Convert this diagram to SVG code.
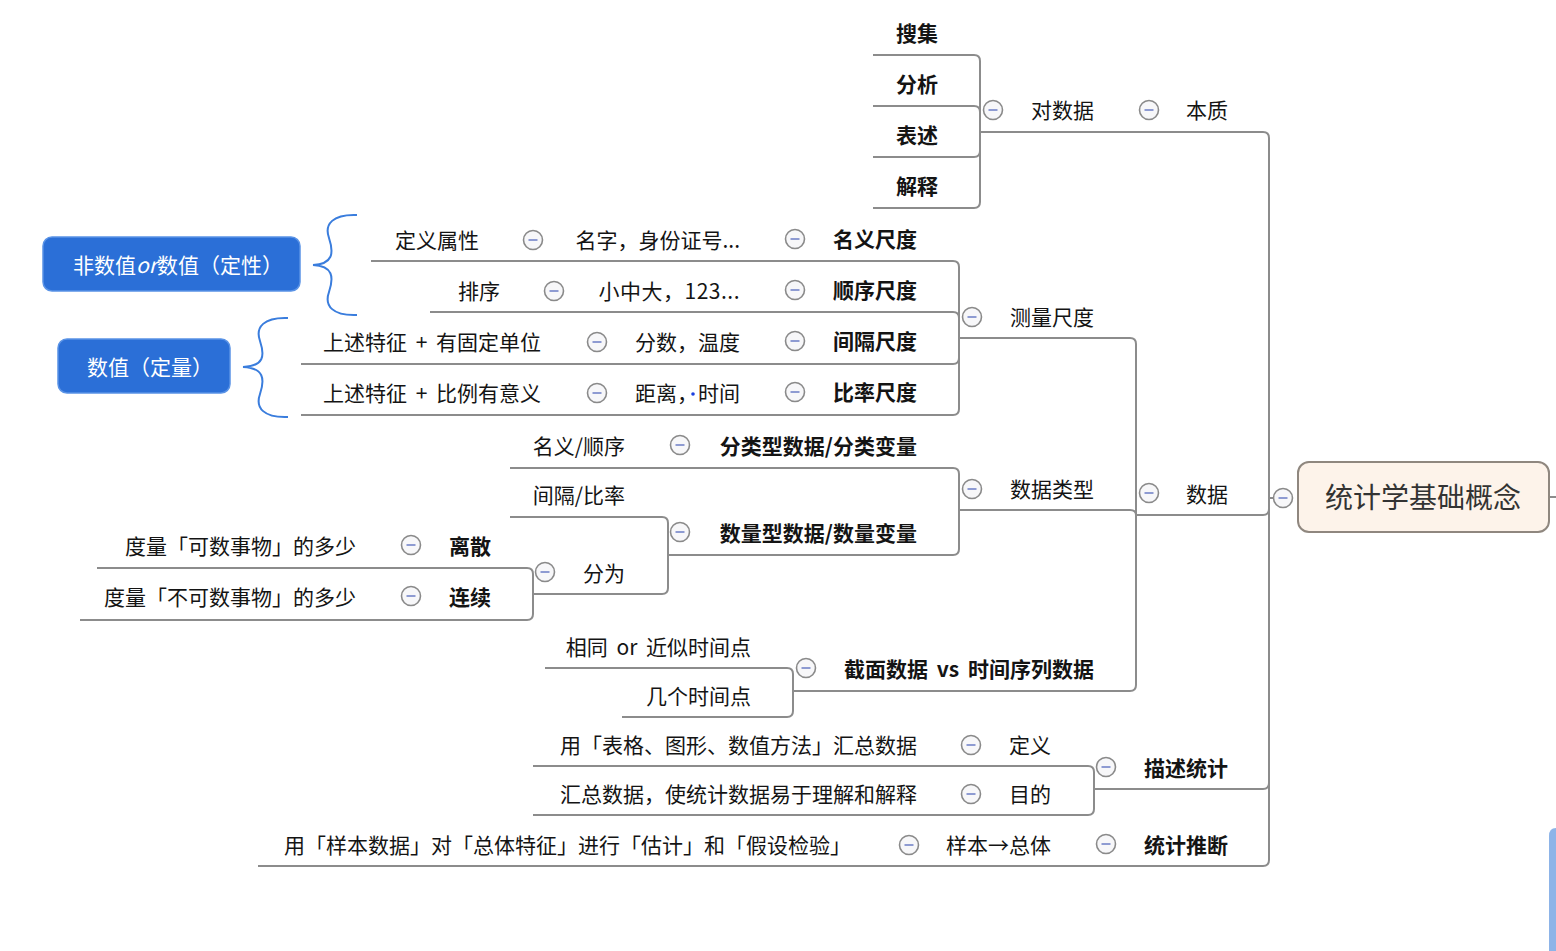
<svg xmlns="http://www.w3.org/2000/svg" width="1556" height="951" viewBox="0 0 1556 951">
<defs>
<style>
text{font-family:"Noto Sans CJK SC","Noto Sans",sans-serif;font-size:21px;fill:#141414;text-anchor:end}
.b{font-weight:bold}
.ws{word-spacing:4px}
.ul{stroke:#8c8c8c;stroke-width:2;fill:none}
.cn{stroke:#8c8c8c;stroke-width:2;fill:none}
.blue rect{fill:#2b6fd7;stroke:#5a93e6;stroke-width:1.5}
.blue text{fill:#ffffff;text-anchor:middle}
.brace{stroke:#3a7ddd;stroke-width:2;fill:none}
</style>
<g id="tog"><circle r="9.5" fill="#f7f7f9" stroke="#8a8a8a" stroke-width="1.6"/><line x1="-4.5" y1="0" x2="4.5" y2="0" stroke="#8e9bd2" stroke-width="2"/></g>
</defs>
<rect width="1556" height="951" fill="#ffffff"/>

<g id="connectors">
<path class="cn" d="M1273,498 H1269 V138 Q1269,132 1263,132"/>
<path class="cn" d="M1269,498 V509 Q1269,515 1263,515"/>
<path class="cn" d="M1269,498 V783 Q1269,789 1263,789"/>
<path class="cn" d="M1269,498 V860 Q1269,866 1263,866"/>
<path class="cn" d="M1550,497 H1556"/>
<path class="cn" d="M980,132 V61 Q980,55 974,55"/>
<path class="cn" d="M980,132 V112 Q980,106 974,106"/>
<path class="cn" d="M980,132 V151 Q980,157 974,157"/>
<path class="cn" d="M980,132 V202 Q980,208 974,208"/>
<path class="cn" d="M1136,515 V344 Q1136,338 1130,338"/>
<path class="cn" d="M1136,515 Q1136,510 1130,510"/>
<path class="cn" d="M1136,515 V685 Q1136,691 1130,691"/>
<path class="cn" d="M959,338 V267 Q959,261 953,261"/>
<path class="cn" d="M959,338 V318 Q959,312 953,312"/>
<path class="cn" d="M959,338 V358 Q959,364 953,364"/>
<path class="cn" d="M959,338 V409 Q959,415 953,415"/>
<path class="cn" d="M959,510 V474 Q959,468 953,468"/>
<path class="cn" d="M959,510 V549 Q959,555 953,555"/>
<path class="cn" d="M668,555 V523 Q668,517 662,517"/>
<path class="cn" d="M668,555 V588 Q668,594 662,594"/>
<path class="cn" d="M533,594 V574 Q533,568 527,568"/>
<path class="cn" d="M533,594 V614 Q533,620 527,620"/>
<path class="cn" d="M793,691 V674 Q793,668 787,668"/>
<path class="cn" d="M793,691 V711 Q793,717 787,717"/>
<path class="cn" d="M1094,789 V772 Q1094,766 1088,766"/>
<path class="cn" d="M1094,789 V809 Q1094,815 1088,815"/>
</g>

<g id="root">
<rect x="1298" y="462" width="251" height="70" rx="11" fill="#fdf3ea" stroke="#8f877f" stroke-width="2"/>
<text x="1423" y="508" style="font-size:28px;fill:#333333;text-anchor:middle">统计学基础概念</text>
<use href="#tog" x="1283" y="498"/>
</g>

<g id="n-benzhi"><line class="ul" x1="1140" y1="132" x2="1263" y2="132"/><use href="#tog" x="1149" y="110"/><text x="1228" y="118">本质</text></g>
<g id="n-duishuju"><line class="ul" x1="980" y1="132" x2="1140" y2="132"/><use href="#tog" x="993" y="110"/><text x="1094" y="118">对数据</text></g>
<g id="n-souji"><line class="ul" x1="873" y1="55" x2="974" y2="55"/><text class="b" x="938" y="41">搜集</text></g>
<g id="n-fenxi"><line class="ul" x1="873" y1="106" x2="974" y2="106"/><text class="b" x="938" y="92">分析</text></g>
<g id="n-biaoshu"><line class="ul" x1="873" y1="157" x2="974" y2="157"/><text class="b" x="938" y="143">表述</text></g>
<g id="n-jieshi"><line class="ul" x1="873" y1="208" x2="974" y2="208"/><text class="b" x="938" y="194">解释</text></g>

<g id="n-shuju"><line class="ul" x1="1136" y1="515" x2="1263" y2="515"/><use href="#tog" x="1149" y="493"/><text x="1228" y="502">数据</text></g>
<g id="n-celiang"><line class="ul" x1="959" y1="338" x2="1130" y2="338"/><use href="#tog" x="972" y="317"/><text x="1094" y="325">测量尺度</text></g>

<g id="n-mingyi"><line class="ul" x1="784" y1="261" x2="953" y2="261"/><use href="#tog" x="795" y="239"/><text class="b" x="917" y="247">名义尺度</text></g>
<g id="n-mingzi"><line class="ul" x1="520" y1="261" x2="784" y2="261"/><use href="#tog" x="533" y="240"/><text x="740" y="248">名字，身份证号...</text></g>
<g id="n-dingyishuxing"><line class="ul" x1="371" y1="261" x2="520" y2="261"/><text x="479" y="248">定义属性</text></g>

<g id="n-shunxu"><line class="ul" x1="784" y1="312" x2="953" y2="312"/><use href="#tog" x="795" y="290"/><text class="b" x="917" y="298">顺序尺度</text></g>
<g id="n-xiaozhongda"><line class="ul" x1="540" y1="312" x2="784" y2="312"/><use href="#tog" x="554" y="291"/><text x="740" y="299" style="letter-spacing:0.5px">小中大，123...</text></g>
<g id="n-paixu"><line class="ul" x1="430" y1="312" x2="540" y2="312"/><text x="500" y="299">排序</text></g>

<g id="n-jiange"><line class="ul" x1="784" y1="364" x2="953" y2="364"/><use href="#tog" x="795" y="341"/><text class="b" x="917" y="349">间隔尺度</text></g>
<g id="n-fenshu"><line class="ul" x1="585" y1="364" x2="784" y2="364"/><use href="#tog" x="597" y="342"/><text x="740" y="350">分数，温度</text></g>
<g id="n-shangshu1"><line class="ul" x1="301" y1="364" x2="585" y2="364"/><text class="ws" x="541" y="350">上述特征 + 有固定单位</text></g>

<g id="n-bilv"><line class="ul" x1="784" y1="415" x2="953" y2="415"/><use href="#tog" x="795" y="392"/><text class="b" x="917" y="400">比率尺度</text></g>
<g id="n-juli"><line class="ul" x1="585" y1="415" x2="784" y2="415"/><use href="#tog" x="597" y="393"/><text x="740" y="401">距离，时间</text><circle cx="693" cy="394" r="1.8" fill="#1b3fe0"/></g>
<g id="n-shangshu2"><line class="ul" x1="301" y1="415" x2="585" y2="415"/><text class="ws" x="541" y="401">上述特征 + 比例有意义</text></g>

<g id="n-dingxing" class="blue"><rect x="43" y="237" width="257" height="54" rx="9"/><text x="178" y="273">非数值<tspan font-style="italic">or</tspan>数值（定性）</text></g>
<g id="n-dingliang" class="blue"><rect x="58" y="339" width="172" height="54" rx="9"/><text x="150" y="375">数值（定量）</text></g>
<g id="braces">
<path class="brace" d="M357,215 C333,214 324,224 329,238 C334,253 333,264 313,265 C333,266 334,277 329,292 C324,306 333,316 357,315"/>
<path class="brace" d="M288,318 C264,317 255,327 260,341 C265,356 264,366 243,367 C264,368 265,379 260,394 C255,408 264,418 288,417"/>
</g>

<g id="n-shujuleixing"><line class="ul" x1="959" y1="510" x2="1130" y2="510"/><use href="#tog" x="972" y="489"/><text x="1094" y="497">数据类型</text></g>
<g id="n-fenleixing"><line class="ul" x1="668" y1="468" x2="953" y2="468"/><use href="#tog" x="680" y="445"/><text class="b" x="917" y="454">分类型数据/分类变量</text></g>
<g id="n-mingyishunxu"><line class="ul" x1="510" y1="468" x2="668" y2="468"/><text x="625" y="454">名义/顺序</text></g>
<g id="n-shuliangxing"><line class="ul" x1="668" y1="555" x2="953" y2="555"/><use href="#tog" x="680" y="532"/><text class="b" x="917" y="541">数量型数据/数量变量</text></g>
<g id="n-jiangebilv"><line class="ul" x1="510" y1="517" x2="662" y2="517"/><text x="625" y="503">间隔/比率</text></g>
<g id="n-fenwei"><line class="ul" x1="533" y1="594" x2="662" y2="594"/><use href="#tog" x="545" y="572"/><text x="625" y="581">分为</text></g>
<g id="n-lisan"><line class="ul" x1="398" y1="568" x2="527" y2="568"/><use href="#tog" x="411" y="545"/><text class="b" x="491" y="554">离散</text></g>
<g id="n-kesu"><line class="ul" x1="97" y1="568" x2="398" y2="568"/><text x="356" y="554">度量「可数事物」的多少</text></g>
<g id="n-lianxu"><line class="ul" x1="398" y1="620" x2="527" y2="620"/><use href="#tog" x="411" y="596"/><text class="b" x="491" y="605">连续</text></g>
<g id="n-bukesu"><line class="ul" x1="80" y1="620" x2="398" y2="620"/><text x="356" y="605">度量「不可数事物」的多少</text></g>

<g id="n-jiemian"><line class="ul" x1="793" y1="691" x2="1130" y2="691"/><use href="#tog" x="806" y="668"/><text class="b ws" x="1094" y="677">截面数据 vs 时间序列数据</text></g>
<g id="n-xiangtong"><line class="ul" x1="545" y1="668" x2="787" y2="668"/><text class="ws" x="751" y="655">相同 or 近似时间点</text></g>
<g id="n-jige"><line class="ul" x1="622" y1="717" x2="787" y2="717"/><text x="751" y="704">几个时间点</text></g>

<g id="n-miaoshu"><line class="ul" x1="1094" y1="789" x2="1263" y2="789"/><use href="#tog" x="1106" y="767"/><text class="b" x="1228" y="776">描述统计</text></g>
<g id="n-dingyi"><line class="ul" x1="958" y1="766" x2="1088" y2="766"/><use href="#tog" x="971" y="745"/><text x="1051" y="753">定义</text></g>
<g id="n-biaoge"><line class="ul" x1="533" y1="766" x2="958" y2="766"/><text x="917" y="753">用「表格、图形、数值方法」汇总数据</text></g>
<g id="n-mudi"><line class="ul" x1="958" y1="815" x2="1088" y2="815"/><use href="#tog" x="971" y="794"/><text x="1051" y="802">目的</text></g>
<g id="n-huizong"><line class="ul" x1="533" y1="815" x2="958" y2="815"/><text x="917" y="802">汇总数据，使统计数据易于理解和解释</text></g>

<g id="n-tuiduan"><line class="ul" x1="1094" y1="866" x2="1263" y2="866"/><use href="#tog" x="1106" y="844"/><text class="b" x="1228" y="853">统计推断</text></g>
<g id="n-yangben"><line class="ul" x1="896" y1="866" x2="1094" y2="866"/><use href="#tog" x="909" y="845"/><text x="1051" y="853">样本→总体</text></g>
<g id="n-yangbenshuju"><line class="ul" x1="258" y1="866" x2="896" y2="866"/><text x="851" y="853">用「样本数据」对「总体特征」进行「估计」和「假设检验」</text></g>

<path d="M1556,828 V951 H1549 V836 Q1549,828 1556,828 Z" fill="#8db4e8"/>
</svg>
